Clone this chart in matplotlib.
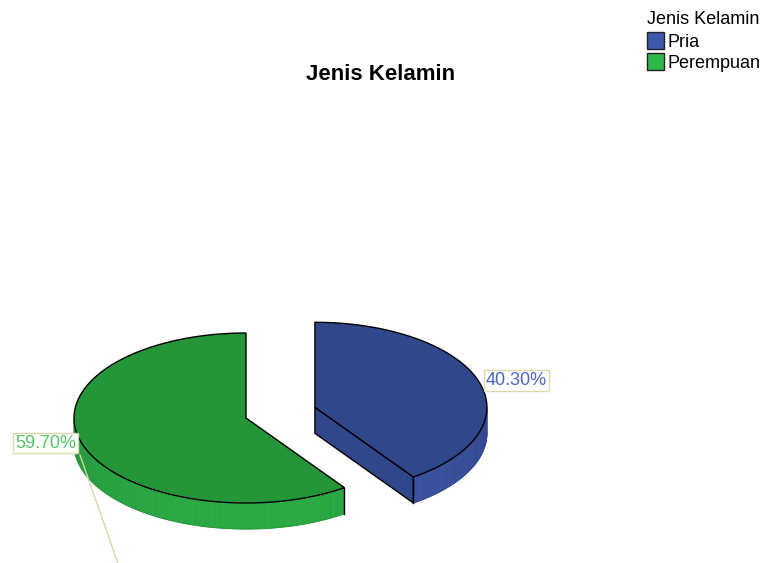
import numpy as np
import matplotlib.pyplot as plt
from matplotlib.patches import Polygon, Patch
from matplotlib.colors import to_rgb

plt.rcParams['font.family'] = ['Liberation Sans', 'DejaVu Sans']

# Data
categories = ['Pria', 'Perempuan']
percents = [40.30, 59.70]
explode = [0.42, 0.0]

# Styling
top_colors = ['#30478b', '#25953a']
side_colors = ['#3a52a3', '#2aaa44']
legend_colors = ['#3e58ac', '#2eb84a']
label_colors = ['#4a63bf', '#52c464']

# Pie geometry (pixel space)
cx, cy = 246, 418
rx, ry = 172, 85
depth = 26
start_angle = 90

fig = plt.figure(figsize=(7.68, 5.63), dpi=100)
ax = fig.add_axes([0, 0, 1, 1])
ax.set_xlim(0, 768)
ax.set_ylim(563, 0)
ax.axis('off')


def pt(x0, y0, ang, dz=0):
    a = np.radians(ang)
    return x0 + rx * np.cos(a), y0 - ry * np.sin(a) + dz


def arc(x0, y0, a0, a1, dz=0, n=120):
    t = np.linspace(a0, a1, n)
    return np.column_stack(pt(x0, y0, t, dz))


def shade(color, f):
    return tuple(min(1, c * f) for c in to_rgb(color))


angle = start_angle
for i, p in enumerate(percents):
    sweep = p / 100 * 360
    hi, lo = angle, angle - sweep
    mid = np.radians((hi + lo) / 2)
    x0 = cx + explode[i] * rx * np.cos(mid)
    y0 = cy - explode[i] * ry * np.sin(mid)

    # curved outer side, only the part facing the viewer
    s0, s1 = max(lo, -180), min(hi, 0)
    if s0 >= s1:
        s0, s1 = max(lo, -540), min(hi, -360)
    if s0 < s1:
        steps = np.linspace(s0, s1, 60)
        for a, b in zip(steps[:-1], steps[1:]):
            f = 0.86 + 0.14 * -np.sin(np.radians((a + b) / 2))
            quad = np.vstack([arc(x0, y0, a, b, 0, 4), arc(x0, y0, b, a, depth, 4)])
            ax.add_patch(Polygon(quad, closed=True, fc=shade(side_colors[i], f),
                                 ec=shade(side_colors[i], f), lw=0.5))
        bottom = arc(x0, y0, s0, s1, depth)
        ax.plot(bottom[:, 0], bottom[:, 1], color=shade(side_colors[i], 0.9), lw=0.8)
        for a in (s0, s1):
            if a in (lo, hi):
                ex, ey = pt(x0, y0, a)
                ax.plot([ex, ex], [ey, ey + depth], color='black', lw=1)

    # flat radial faces that face the viewer
    for edge, normal in ((lo, lo - 90), (hi, hi + 90)):
        if np.sin(np.radians(normal)) < -1e-6:
            ex, ey = pt(x0, y0, edge)
            face = [(x0, y0), (ex, ey), (ex, ey + depth), (x0, y0 + depth)]
            ax.add_patch(Polygon(face, closed=True, fc=top_colors[i],
                                 ec='black', lw=1))

    # top face
    top = np.vstack([[x0, y0], arc(x0, y0, lo, hi)])
    ax.add_patch(Polygon(top, closed=True, fc=top_colors[i], ec='black', lw=1))

    # percentage labels
    txt = f'{p:.2f}%'
    box = dict(boxstyle='square,pad=0.1', fc='white', ec='#dcd8b0', lw=1)
    if i == 0:
        lx, ly = pt(x0, y0, 9)
        ax.text(lx + 1, ly - 5, txt, color=label_colors[i], fontsize=13,
                ha='left', va='bottom', bbox=box)
    else:
        lx, ly = pt(x0, y0, 180)
        ax.plot([lx + 6, lx + 48], [ly + depth + 11, ly + depth + 131],
                color='#d8d4a4', lw=1)
        ax.text(lx + 2, ly + depth - 1, txt, color=label_colors[i], fontsize=13,
                ha='right', va='center', bbox=box)

    angle = lo

ax.text(381, 75, 'Jenis Kelamin', fontsize=16, fontweight='bold',
        ha='center', va='center')

handles = [Patch(fc=c, ec='#222222', lw=1) for c in legend_colors]
leg = ax.legend(handles, categories, title='Jenis Kelamin', loc='upper left',
                bbox_to_anchor=(647 / 768, 1 - 11 / 563), bbox_transform=fig.transFigure,
                frameon=False, fontsize=13, title_fontsize=13, alignment='left',
                borderpad=0, borderaxespad=0, handlelength=0.95, handleheight=1.05,
                handletextpad=0.2, labelspacing=0.15)
leg._legend_box.sep = 3

fig.savefig('out.png', dpi=100)
